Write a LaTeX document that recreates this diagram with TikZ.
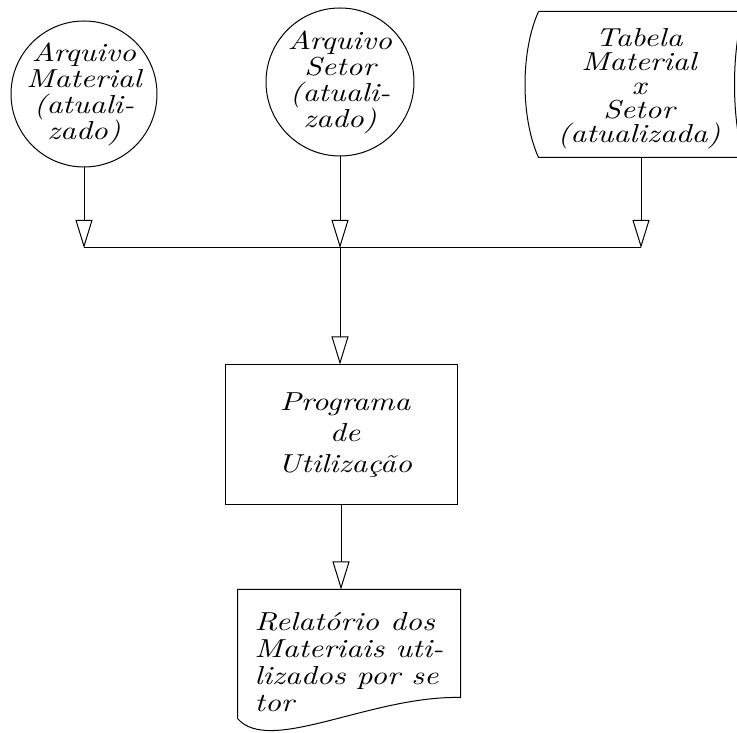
\documentclass[tikz,border=0pt]{standalone}
\usepackage{fontspec}
\newfontfamily\hand{lmroman10-italic}[Extension=.otf,FakeStretch=1.2]
\usetikzlibrary{arrows.meta,calc}

\tikzset{
  flow/.style={-{Triangle[open,length=28pt,width=17pt]}},
  txt/.style={font=\hand\fontsize{26}{26}\selectfont,align=center,inner sep=0pt},
}

\begin{document}
\begin{tikzpicture}[x=1pt,y=1pt,line width=1pt]
\useasboundingbox (0,0) rectangle (737,733);
% arquivos de entrada
\node[draw,circle,minimum size=146pt] (c1) at (84,639) {};
\node[txt] at (c1) {Arquivo\\Material\\(atuali-\\zado)};
\node[draw,circle,minimum size=148pt] (c2) at (340,651) {};
\node[txt] at (c2) {Arquivo\\Setor\\(atuali-\\zado)};
\node[minimum width=204pt,minimum height=145pt,inner sep=0pt] (tab) at (641,648.5) {};
\draw (tab.north west) -- (tab.north east)
  .. controls +(-12,-40) and +(-12,40) .. (tab.south east) -- (tab.south west)
  .. controls +(-18,40) and +(-18,-40) .. (tab.north west);
\node[txt,font=\hand\fontsize{26}{24}\selectfont] at ([xshift=-2pt,yshift=-4pt]tab) {Tabela\\Material\\x\\Setor\\(atualizada)};
% programa
\node[draw,minimum width=232pt,minimum height=140pt] (prog) at (341,298) {};
\node[txt,font=\hand\fontsize{26}{31}\selectfont] at ([xshift=4pt]prog) {Programa\\de\\Utilização};
% relatorio
\node[minimum width=222pt,minimum height=128pt,inner sep=0pt] (rel) at (349,79) {};
\draw (rel.north west) -- (rel.north east) -- ([yshift=21pt]rel.south east)
  .. controls +(-90,2) and +(32,-37) .. (rel.south west) -- cycle;
\node[txt,align=left,font=\hand\fontsize{26}{27}\selectfont] at ([yshift=-8pt]rel) {Relatório dos\\Materiais uti-\\lizados por se\\tor};
% ligacoes
\coordinate (busL) at (c1.south |- 0,485);
\coordinate (busM) at (c2.south |- 0,485);
\coordinate (busR) at (tab.south |- 0,485);
\draw (busL) -- (busR);
\draw[flow] (c1.south) -- (busL);
\draw[flow] (c2.south) -- (busM);
\draw[flow] (tab.south) -- (busR);
\draw[flow] (busM) -- (busM |- prog.north);
\draw[flow] (prog.south) -- (prog.south |- rel.north);
\end{tikzpicture}
\end{document}
